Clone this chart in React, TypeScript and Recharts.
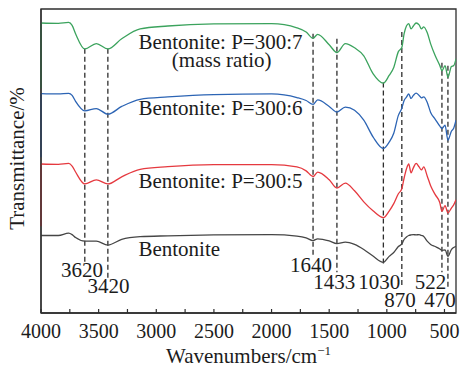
import { LineChart, Line, XAxis, YAxis, ReferenceLine, ReferenceDot, ReferenceArea } from 'recharts'

const font = '"Liberation Serif", "Times New Roman", serif'
const ink = '#2e2e2e'
const textInk = '#1c1c1c'

// wavenumber grid (cm-1), shared by all four spectra
const waves = [4000, 3850, 3760, 3730, 3700, 3620, 3520, 3420, 3300, 3140, 2900, 2500, 2000, 1780, 1700, 1640, 1600, 1500, 1433, 1360, 1280, 1200, 1120, 1030, 980, 940, 900, 870, 850, 830, 810, 790, 770, 746, 720, 700, 680, 650, 620, 580, 540, 522, 495, 470, 440, 420, 400]

// transmittance, offset spectra (arbitrary units)
const p7 = [97.3, 97.2, 97.5, 96.5, 93.7, 88.6, 90.4, 88.6, 92.0, 95.3, 96.3, 97.0, 97.1, 95.7, 94.3, 92.2, 93.5, 90.0, 87.4, 90.4, 89.0, 86.3, 80.3, 77.1, 79.7, 82.4, 87.7, 89.1, 93.7, 96.3, 97.1, 95.3, 96.3, 97.3, 96.7, 95.3, 96.0, 94.1, 90.3, 86.3, 83.0, 81.3, 83.0, 79.1, 82.7, 83.0, 85.3]
const p6 = [73.6, 73.5, 73.7, 73.0, 71.0, 67.8, 68.6, 66.7, 69.3, 71.7, 72.5, 73.3, 73.5, 72.3, 71.3, 70.0, 71.5, 69.3, 67.4, 69.1, 68.0, 64.7, 59.1, 55.2, 57.3, 60.3, 66.3, 68.7, 71.3, 72.4, 73.5, 72.0, 73.0, 73.8, 73.0, 72.2, 72.5, 70.7, 67.3, 65.0, 62.7, 61.9, 63.0, 58.0, 61.0, 62.0, 64.7]
const p5 = [50.0, 49.9, 50.2, 49.3, 47.3, 43.3, 44.7, 43.3, 45.7, 48.2, 49.1, 49.8, 49.8, 49.0, 47.7, 45.8, 47.3, 44.7, 41.9, 43.6, 41.0, 37.3, 34.3, 32.0, 34.2, 36.7, 40.0, 41.7, 45.3, 48.3, 50.0, 47.0, 48.7, 50.2, 49.0, 48.0, 49.0, 46.0, 42.7, 39.7, 37.0, 34.1, 36.0, 33.6, 35.2, 36.3, 38.0]
const bentonite = [26.0, 26.0, 26.8, 26.3, 25.3, 24.1, 24.1, 22.8, 24.7, 25.6, 25.9, 26.2, 26.3, 25.8, 25.2, 24.3, 24.9, 24.2, 23.3, 23.8, 23.0, 21.3, 19.1, 17.0, 19.0, 20.3, 22.3, 23.2, 24.7, 25.5, 26.0, 26.2, 26.3, 26.2, 26.3, 26.0, 25.7, 24.1, 23.0, 22.3, 21.5, 21.0, 21.2, 19.0, 21.3, 22.0, 22.4]

// each trace drops straight down at 4000 cm-1 to this level
const edgeLow = [75.3, 52.3, 29.1, null]

const seriesColors = ['#3ba35d', '#2c64b4', '#e5393f', '#464646']
const seriesValues = [p7, p6, p5, bentonite]

// marked bands
const peakWaves = [3620, 3420, 1640, 1433, 1030, 870, 522, 470]
const peakTop = [88.7, 88.7, 93.7, 92.0, 77.3, 94.3, 84.0, 83.0]
const peakBottom = [17.0, 11.3, 19.0, 13.7, 15.7, 9.0, 13.7, 8.7]
const peakLabelAt = [3644, 3415, 1658, 1456, 1066, 886, 622, 539]
const peakLabelLevel = [14.6, 9.1, 16.3, 10.5, 10.5, 4.4, 10.5, 4.4]

const seriesLabels = ['Bentonite: P=300:7', '(mass ratio)', 'Bentonite: P=300:6', 'Bentonite: P=300:5', 'Bentonite']
const seriesLabelAt = [3155, 2865, 3155, 3155, 3155]
const seriesLabelLevel = [91.1, 85.2, 68.8, 44.4, 21.8]

const xTicks = [4000, 3750, 3500, 3250, 3000, 2750, 2500, 2250, 2000, 1750, 1500, 1250, 1000, 750, 500]

const XTitle = ({ viewBox }: any) => {
  const { x, y, width } = viewBox
  return (
    <text x={x + width / 2} y={y + 50} textAnchor="middle" fontSize={21} fontFamily={font} fill={textInk}>
      Wavenumbers/cm<tspan dy={-8} fontSize={13}>−1</tspan>
    </text>
  )
}

const YTitle = ({ viewBox }: any) => {
  const { x, y, height } = viewBox
  const cx = x + 23.5
  const cy = y + height / 2 - 2.5
  return (
    <text x={cx} y={cy} textAnchor="middle" fontSize={21} fontFamily={font} fill={textInk} transform={`rotate(-90, ${cx}, ${cy})`}>
      Transmittance/%
    </text>
  )
}

const XTick = ({ x, y, payload }: any) =>
  payload.value % 500 === 0 ? (
    <text x={x} y={y + 14} textAnchor="middle" fontSize={20} fontFamily={font} fill={textInk}>
      {payload.value}
    </text>
  ) : null

const textAt = (value: string, anchor: 'middle' | 'start') => (p: any) => (
  <text x={p.cx} y={p.cy + 7.5} textAnchor={anchor} fontSize={21} fontFamily={font} fill={textInk}>
    {value}
  </text>
)

export default function App() {
  return (
    <div style={{ position: 'absolute', left: 0, top: 0 }}>
      <LineChart width={461} height={372} margin={{ top: 9, right: 5, bottom: 0, left: 0 }}>
        <XAxis
          dataKey="w"
          type="number"
          domain={[400, 4000]}
          reversed
          allowDataOverflow
          ticks={xTicks}
          interval={0}
          tickSize={-4}
          tickMargin={15}
          height={59}
          axisLine={{ stroke: ink, strokeWidth: 1.3 }}
          tickLine={{ stroke: ink, strokeWidth: 1.2 }}
          tick={<XTick />}
          label={<XTitle />}
        />
        <YAxis
          type="number"
          domain={[0, 102]}
          allowDataOverflow
          width={41}
          tick={false}
          tickLine={false}
          axisLine={{ stroke: ink, strokeWidth: 1.3 }}
          label={<YTitle />}
        />
        <ReferenceArea x1={4000} x2={400} y1={0} y2={102} fill="none" fillOpacity={0} stroke={ink} strokeWidth={1.3} />
        {seriesValues.map((vals, i) =>
          edgeLow[i] == null ? null : (
            <ReferenceLine
              key={'edge' + i}
              segment={[{ x: waves[0], y: vals[0] }, { x: waves[0], y: edgeLow[i] as number }]}
              stroke={seriesColors[i]}
              strokeWidth={1.4}
            />
          )
        )}
        {peakWaves.map((w, i) => (
          <ReferenceLine
            key={'pk' + w}
            segment={[{ x: w, y: peakTop[i] }, { x: w, y: peakBottom[i] }]}
            stroke={ink}
            strokeWidth={1.3}
            strokeDasharray="5 3"
          />
        ))}
        {seriesValues.map((vals, i) => (
          <Line
            key={'s' + i}
            data={waves.map((w, j) => ({ w, t: vals[j] }))}
            dataKey="t"
            type="monotone"
            stroke={seriesColors[i]}
            strokeWidth={1.3}
            dot={false}
            activeDot={false}
            isAnimationActive={false}
          />
        ))}
        {peakWaves.map((w, i) => (
          <ReferenceDot key={'pl' + w} x={peakLabelAt[i]} y={peakLabelLevel[i]} r={1} shape={textAt(String(w), 'middle')} />
        ))}
        {seriesLabels.map((s, i) => (
          <ReferenceDot key={'sl' + i} x={seriesLabelAt[i]} y={seriesLabelLevel[i]} r={1} shape={textAt(s, 'start')} />
        ))}
      </LineChart>
    </div>
  )
}
